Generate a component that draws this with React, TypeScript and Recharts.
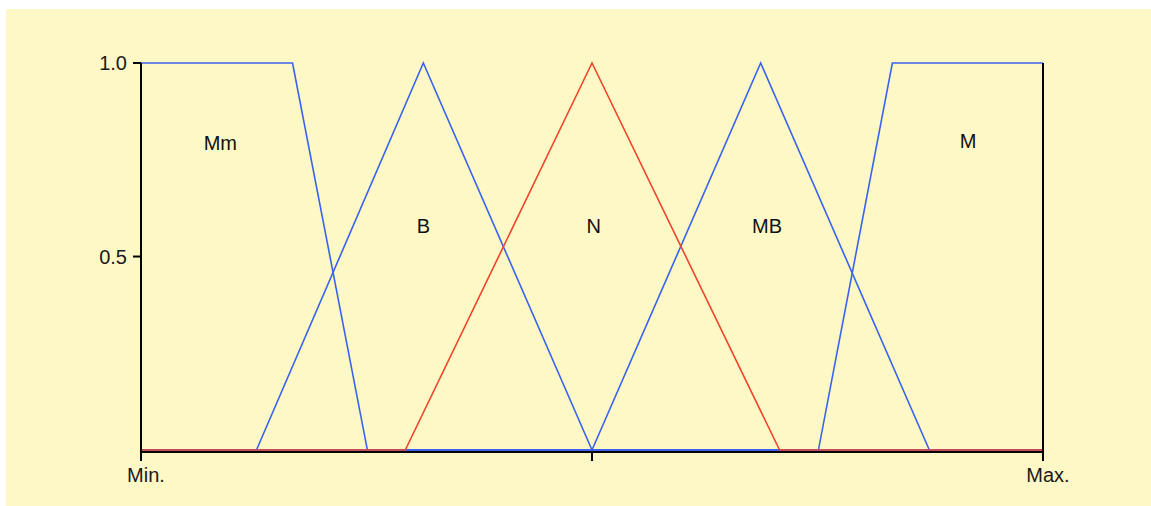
import {
  LineChart,
  Line,
  XAxis,
  YAxis,
  ReferenceDot,
} from "recharts";

// membership functions, x in % of the universe (Min. = 0, Max. = 100)
const mmX = [0, 16.8, 25.1, 100];
const mmY = [1, 1, 0, 0];
const bX = [0, 12.8, 31.3, 50, 100];
const bY = [0, 0, 1, 0, 0];
const nX = [0, 29.3, 50, 70.8, 100];
const nY = [0, 0, 1, 0, 0];
const mbX = [0, 50, 68.7, 87.4, 100];
const mbY = [0, 0, 1, 0, 0];
const mX = [0, 75.1, 83.3, 100];
const mY = [0, 0, 1, 1];

const xTicks = [0, 50, 100];
const xTickLabels = ["Min.", "", "Max."];
const yTicks = [0.5, 1];

const labelNames = ["Mm", "B", "N", "MB", "M"];
const labelX = [8.8, 31.3, 50.2, 69.4, 91.7];
const labelY = [0.794, 0.578, 0.578, 0.578, 0.8];

const BLUE = "#3a62f0";
const RED = "#f0452a";
const FONT = "'Liberation Sans', Arial, sans-serif";

const toPoints = (xs: number[], ys: number[]) => xs.map((x, i) => ({ x, y: ys[i] }));

function XTick(props: any) {
  const { x, y, payload } = props;
  const idx = xTicks.indexOf(payload.value);
  return (
    <g>
      <line x1={x} x2={x} y1={y - 8} y2={y + 1} stroke="#000" strokeWidth={2} />
      <text x={x + 5} y={y + 22} textAnchor="middle" fontSize={20} fontFamily={FONT} fill="#1a1a1a">
        {xTickLabels[idx]}
      </text>
    </g>
  );
}

export default function App() {
  const series = [
    { key: "Mm", data: toPoints(mmX, mmY), color: BLUE },
    { key: "B", data: toPoints(bX, bY), color: BLUE },
    { key: "MB", data: toPoints(mbX, mbY), color: BLUE },
    { key: "M", data: toPoints(mX, mY), color: BLUE },
    { key: "N", data: toPoints(nX, nY), color: RED },
  ];
  // small negative floor keeps the 0-level of the curves just above the black axis line
  const yDomain = [-0.005, 1];
  return (
    <div
      style={{
        position: "absolute",
        left: 6,
        top: 9,
        width: 1145,
        height: 497,
        background: "#fef8c6",
        fontFamily: FONT,
      }}
    >
      <LineChart width={1145} height={497} margin={{ top: 54, right: 0, bottom: 0, left: 0 }}>
        <XAxis
          dataKey="x"
          type="number"
          domain={[0, 100]}
          ticks={xTicks}
          height={54}
          stroke="#000"
          strokeWidth={2}
          tickLine={false}
          tick={<XTick />}
          allowDuplicatedCategory={false}
        />
        <YAxis
          yAxisId="l"
          orientation="left"
          domain={yDomain}
          ticks={yTicks}
          width={135}
          stroke="#000"
          strokeWidth={2}
          tickSize={8}
          tickMargin={6}
          tickFormatter={(v: number) => v.toFixed(1)}
          tick={{ fontSize: 20, fill: "#1a1a1a", fontFamily: FONT }}
        />
        <YAxis
          yAxisId="r"
          orientation="right"
          domain={yDomain}
          ticks={yTicks}
          width={108}
          stroke="#000"
          strokeWidth={2}
          tickSize={8}
          tickMargin={2}
          tickFormatter={(v: number) => v.toFixed(1)}
          tick={{ fontSize: 20, fill: "#1a1a1a", fontFamily: FONT }}
        />
        {series.map((s) => (
          <Line
            key={s.key}
            yAxisId="l"
            data={s.data}
            dataKey="y"
            type="linear"
            stroke={s.color}
            strokeWidth={1.6}
            dot={false}
            activeDot={false}
            isAnimationActive={false}
          />
        ))}
        {labelNames.map((name, i) => (
          <ReferenceDot
            key={name}
            yAxisId="l"
            x={labelX[i]}
            y={labelY[i]}
            r={0}
            stroke="none"
            fill="none"
            ifOverflow="visible"
            label={{ value: name, position: "center", fontSize: 20, fill: "#111", fontFamily: FONT }}
          />
        ))}
      </LineChart>
    </div>
  );
}
